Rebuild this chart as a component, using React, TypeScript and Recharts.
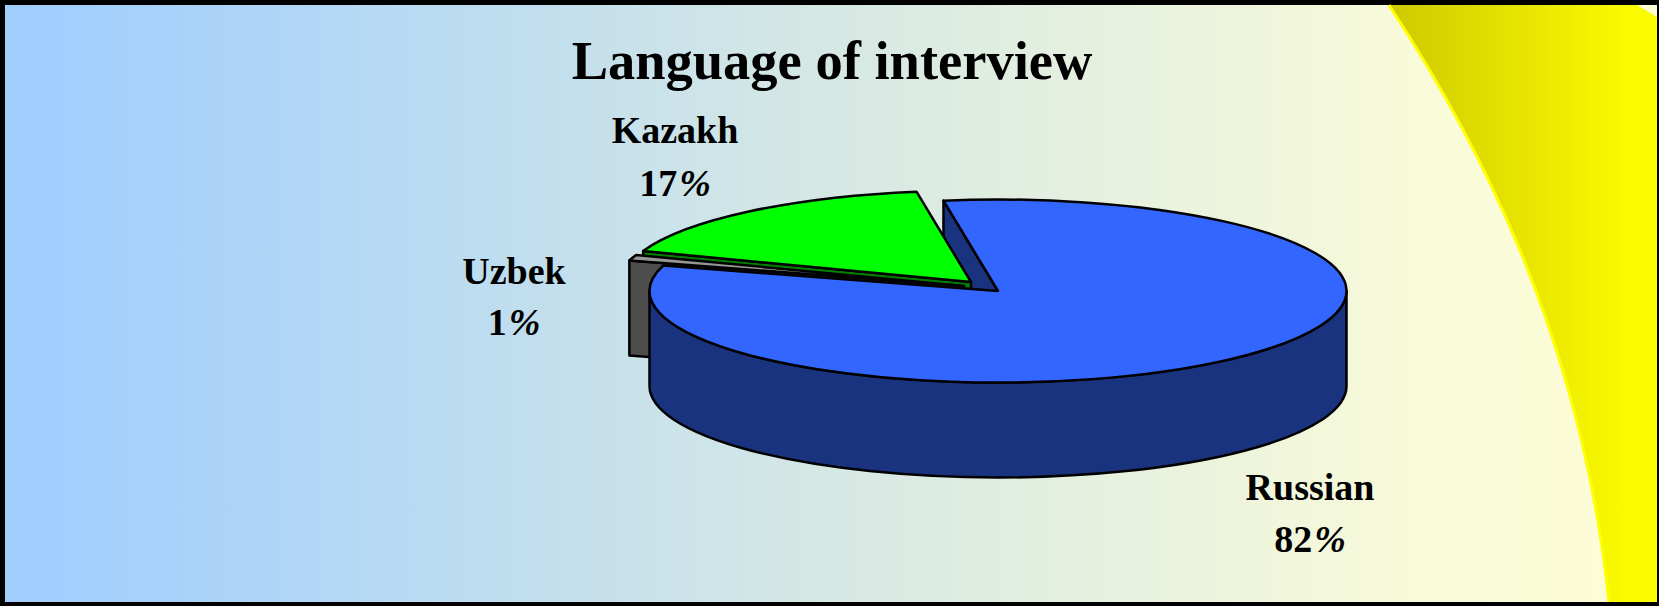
import React from "react";
import { PieChart, Pie } from "recharts";

const categories = ["Russian", "Uzbek", "Kazakh"];
const shares = [82, 1, 17];
const title = "Language of interview";

const W = 1659;
const H = 606;
const CX = 998;
const CY = 291;
const RX = 348.5;
const RY = 91.5;
const DEPTH = 95;

// pulled out slices, in px
const offsets: Record<string, [number, number]> = {
  Russian: [0, 0],
  Uzbek: [-34, -5],
  Kazakh: [-27, -9],
};
const topColors: Record<string, string> = { Russian: "#3366ff", Uzbek: "#969696", Kazakh: "#00ff00" };
const sideColors: Record<string, string> = { Russian: "#1a337f", Uzbek: "#4d4d4d", Kazakh: "#008000" };
const labelSpots: Record<string, [number, number, number]> = {
  Russian: [1310, 500, 552],
  Uzbek: [514, 284, 335],
  Kazakh: [675, 143, 196],
};

const tableData = categories.map((name, i) => ({ name, value: shares[i] }));

const RAD = Math.PI / 180;

// Recharts hands us circular angles, the 3D look squashes them to an ellipse
function slicePaths(cx: number, cy: number, rx: number, start: number, end: number) {
  const ry = (rx * RY) / RX;
  const pt = (a: number, dy = 0) => `${cx + rx * Math.cos(a * RAD)},${cy - ry * Math.sin(a * RAD) + dy}`;
  const large = Math.abs(start - end) > 180 ? 1 : 0;
  const top = `M${cx},${cy} L${pt(start)} A${rx},${ry} 0 ${large} 1 ${pt(end)} Z`;
  const face = `M${cx},${cy} L${pt(start)} L${pt(start, DEPTH)} L${cx},${cy + DEPTH} Z`;
  // front wall is only the part of the rim in the lower half
  const hi = Math.min(start, 0);
  const lo = Math.max(end, -180);
  const wall =
    hi > lo
      ? `M${pt(hi)} L${pt(hi, DEPTH)} A${rx},${ry} 0 0 1 ${pt(lo, DEPTH)} L${pt(lo)} A${rx},${ry} 0 0 0 ${pt(hi)} Z`
      : null;
  return { top, face, wall };
}

function makeShape(only: string, parts: string[]) {
  return (props: any) => {
    if (props.name !== only) return <g />;
    const [dx, dy] = offsets[only];
    const p = slicePaths(props.cx + dx, props.cy + dy, props.outerRadius, props.startAngle, props.endAngle);
    const common = { stroke: "#000", strokeWidth: 2.5, strokeLinejoin: "round" as const };
    return (
      <g>
        {parts.includes("face") && <path d={p.face} fill={sideColors[only]} {...common} />}
        {parts.includes("wall") && p.wall && <path d={p.wall} fill={sideColors[only]} {...common} />}
        {parts.includes("top") && <path d={p.top} fill={topColors[only]} {...common} />}
      </g>
    );
  };
}

const layers: [string, string[]][] = [
  ["Russian", ["face"]],
  ["Kazakh", ["face", "top"]],
  ["Uzbek", ["face", "top"]],
  ["Russian", ["wall", "top"]],
];

export default function App() {
  return (
    <div style={{ position: "absolute", left: 0, top: 0, width: W, height: H, background: "#000", overflow: "hidden" }}>
      <svg width={W} height={H} style={{ position: "absolute", left: 0, top: 0 }}>
        <defs>
          <linearGradient id="bg" gradientUnits="userSpaceOnUse" x1="0" x2="1659" y1="0" y2="0">
            <stop offset="0" stopColor="#a1cefd" />
            <stop offset="0.05" stopColor="#a2cffd" />
            <stop offset="0.5" stopColor="#d6e8e4" />
            <stop offset="0.85" stopColor="#f8fad9" />
            <stop offset="1" stopColor="#fdfdd6" />
          </linearGradient>
          <linearGradient id="corner" gradientUnits="userSpaceOnUse" x1="1388" x2="1630" y1="0" y2="0">
            <stop offset="0" stopColor="#cdc900" />
            <stop offset="1" stopColor="#fbfb00" />
          </linearGradient>
        </defs>
        <rect x={5} y={5} width={1652} height={597} fill="url(#bg)" />
        <path
          d="M1388,5 C1470,130 1580,330 1608,602 L1657,602 L1657,17 L1637,5 Z"
          fill="url(#corner)"
        />
        <path d="M1389,5 C1471,130 1581,330 1609,602" fill="none" stroke="#ffff00" strokeWidth={3} />
      </svg>
      <div style={{ position: "absolute", left: 0, top: 0 }}>
        <PieChart width={W} height={H} margin={{ top: 0, right: 0, bottom: 0, left: 0 }}>
          {layers.map(([name, parts], i) => (
            <Pie
              key={i}
              data={tableData}
              dataKey="value"
              nameKey="name"
              cx={CX}
              cy={CY}
              outerRadius={RX}
              startAngle={99}
              endAngle={-261}
              isAnimationActive={false}
              shape={makeShape(name, parts)}
            />
          ))}
          <text
            x={832}
            y={79}
            textAnchor="middle"
            fontFamily="Liberation Serif"
            fontWeight="bold"
            fontSize={54.5}
            fill="#000"
          >
            {title}
          </text>
          {categories.map((name, i) => {
            const [x, y1, y2] = labelSpots[name];
            return (
              <g key={name} fontFamily="Liberation Serif" fontWeight="bold" fontSize={38} fill="#000" textAnchor="middle">
                <text x={x} y={y1}>{name}</text>
                <text x={x} y={y2}>
                  {shares[i]}
                  <tspan fontStyle="italic" dx={2}>%</tspan>
                </text>
              </g>
            );
          })}
        </PieChart>
      </div>
    </div>
  );
}
